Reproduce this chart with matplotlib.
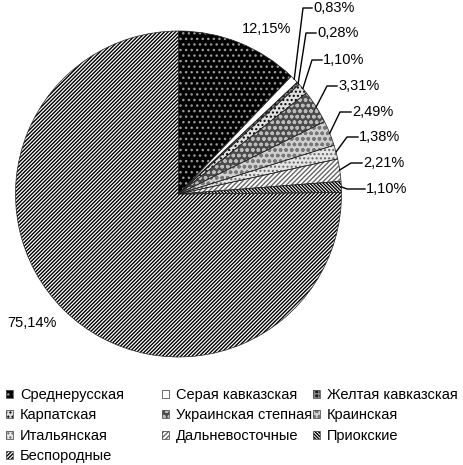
import numpy as np
import matplotlib
matplotlib.use("Agg")
import matplotlib.pyplot as plt
from matplotlib.patches import Rectangle
from matplotlib.legend_handler import HandlerBase

plt.rcParams['font.family'] = ['Liberation Sans', 'DejaVu Sans']
plt.rcParams['hatch.linewidth'] = 1.0

breeds = ["Среднерусская", "Серая кавказская", "Желтая кавказская",
          "Карпатская", "Украинская степная", "Краинская",
          "Итальянская", "Дальневосточные", "Приокские", "Беспородные"]
shares = [12.15, 0.83, 0.28, 1.10, 3.31, 2.49, 1.38, 2.21, 1.10, 75.14]

# fill, hatch, hatch colour per slice (grayscale like the original print)
fills = ["black", "white", "#1a1a1a", "#e0e0e0", "#4a4a4a", "#d0d0d0",
         "#e6e6e6", "white", "white", "white"]
hatches = ["...", "", "++++", "....", "ooo", "ooo", "....",
           "/" * 7, "\\" * 10, "/" * 9]
hcolors = ["#9a9a9a", "white", "#888888", "black", "#bbbbbb", "#777777",
           "#666666", "#666666", "black", "black"]

W, H = 464, 465
cx, cy, r = 178.5, 194, 163


def py(y):
    # pixel row -> data y
    return H - y


class HandlerBox(HandlerBase):
    # hatched square with a thin gray frame
    def create_artists(self, legend, orig_handle, xdescent, ydescent,
                       width, height, fontsize, trans):
        fill = Rectangle((-xdescent, -ydescent), width, height,
                         facecolor=orig_handle.get_facecolor(),
                         edgecolor=orig_handle.get_edgecolor(),
                         hatch=orig_handle.get_hatch(), linewidth=0,
                         transform=trans)
        frame = Rectangle((-xdescent, -ydescent), width, height,
                          facecolor="none", edgecolor="#555555",
                          linewidth=0.6, transform=trans)
        return [fill, frame]


fig = plt.figure(figsize=(W / 100, H / 100), dpi=100)
ax = fig.add_axes([0, 0, 1, 1])

wedges, _ = ax.pie(shares, startangle=90, counterclock=False,
                   center=(cx, py(cy)), radius=r,
                   wedgeprops=dict(linewidth=0))
for w, fc, h, hc in zip(wedges, fills, hatches, hcolors):
    w.set_facecolor(fc)
    w.set_edgecolor(hc)
    w.set_hatch(h)

# thin outline over the slices
ax.pie(shares, startangle=90, counterclock=False, center=(cx, py(cy)),
       radius=r, wedgeprops=dict(facecolor="none", edgecolor="#222222",
                                 linewidth=0.5))

ax.set_xlim(0, W)
ax.set_ylim(0, H)
ax.set_aspect('equal')
ax.axis('off')


def pct(v):
    return f"{v:.2f}".replace(".", ",") + "%"


fs = 10.5
# labels with leaders for the small slices: (text x, text y) in pixels
lab_pos = [(313, 8), (317, 33), (323, 60), (338, 86), (352, 112),
           (359, 137), (363, 163), (366, 189)]
knee_x = [303, 306, 312, 327, 340, 347, 351, 347]
for i, (tx, ty), kx in zip(range(1, 9), lab_pos, knee_x):
    w = wedges[i]
    mid = np.deg2rad((w.theta1 + w.theta2) / 2)
    ex = cx + r * np.cos(mid)
    ey = py(cy) + r * np.sin(mid)
    ax.plot([ex, kx, tx - 1], [ey, py(ty), py(ty)], color="black", lw=1)
    ax.text(tx, py(ty), pct(shares[i]), fontsize=fs, ha="left", va="center")

ax.text(267, py(29), pct(shares[0]), fontsize=fs, ha="center", va="center")
ax.text(32, py(323), pct(shares[9]), fontsize=fs, ha="center", va="center")

# legend, three columns filled row by row
cols_x = [6, 162, 313]
for c, x in enumerate(cols_x):
    idx = list(range(c, len(breeds), 3))
    fig.legend([wedges[i] for i in idx], [breeds[i] for i in idx],
               loc="upper left", bbox_to_anchor=(x / W, 1 - 388 / H),
               frameon=False, borderpad=0, borderaxespad=0,
               handlelength=0.5, handleheight=0.5, handletextpad=0.45,
               labelspacing=0.44, fontsize=fs,
               handler_map={type(wedges[0]): HandlerBox()})

fig.savefig("out.png", dpi=100)
